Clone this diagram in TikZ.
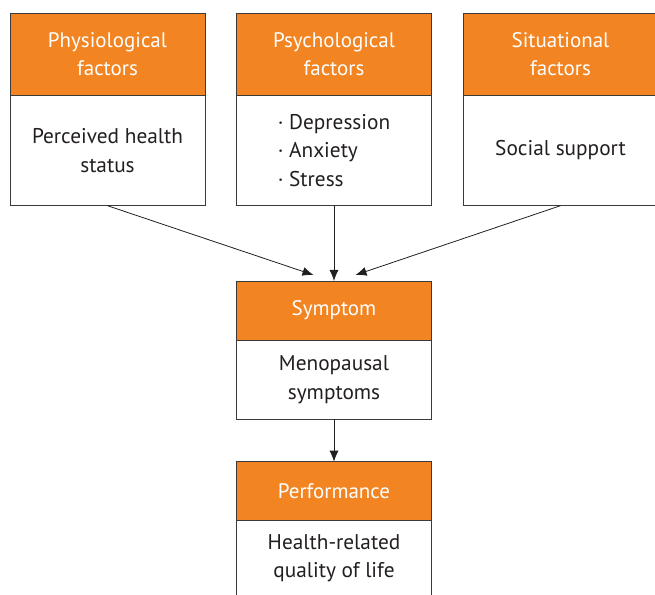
\documentclass[tikz,border=0pt]{standalone}
\usepackage{fontspec}
\setmainfont{PT Sans}
\usetikzlibrary{positioning,arrows.meta}
\definecolor{boxorange}{HTML}{F28422}
\definecolor{boxline}{HTML}{3A3A3A}
\definecolor{textdark}{HTML}{231F20}
\tikzset{
  hdr/.style={draw=boxline, line width=0.8pt, fill=boxorange, text=white,
    minimum width=195pt, align=center, inner sep=0pt, outer sep=0pt,
    font=\fontsize{21}{28.5}\selectfont},
  bodybox/.style={draw=boxline, line width=0.8pt, fill=white, text=textdark,
    minimum width=195pt, inner sep=0pt, outer sep=0pt,
    font=\fontsize{21.3}{28.5}\selectfont},
  link/.style={-{Latex[length=11pt,width=9pt]}, draw=textdark, line width=0.8pt}
}
\begin{document}
\begin{tikzpicture}[x=1pt,y=1pt]
  \useasboundingbox (0,0) rectangle (655,594);
  \clip (0,0) rectangle (655,594);

  % top row
  \node[hdr, minimum height=81.5pt, anchor=north west] (physhead) at (10,580.5) {Physiological\\factors};
  \node[hdr, minimum height=81.5pt, right=31.5pt of physhead] (psychhead) {Psychological\\factors};
  \node[hdr, minimum height=81.5pt, right=31.5pt of psychhead] (sithead) {Situational\\factors};
  \node[bodybox, minimum height=110.7pt, align=center, below=0pt of physhead] (physbody) {Perceived health\\status};
  \node[bodybox, minimum height=110.7pt, align=left, below=0pt of psychhead] (psychbody) {· Depression\\· Anxiety\\· Stress};
  \node[bodybox, minimum height=110.7pt, align=center, below=0pt of sithead] (sitbody) {Social support};

  % symptom
  \node[hdr, minimum height=59pt, below=75.3pt of psychbody] (symphead) {Symptom};
  \node[bodybox, minimum height=79.3pt, align=center, below=0pt of symphead] (sympbody) {Menopausal\\symptoms};

  % performance
  \node[hdr, minimum height=58.3pt, below=42.4pt of sympbody] (perfhead) {Performance};
  \node[bodybox, minimum height=110pt, align=center, below=0pt of perfhead] (perfbody) {};
  \node[text=textdark, font=\fontsize{21.3}{28.5}\selectfont, align=center, inner sep=0pt]
    (perftext) at ([yshift=-38pt]perfhead.south) {Health-related\\quality of life};

  \coordinate (inL) at ([xshift=-20.5pt,yshift=6pt]symphead.north);
  \coordinate (inR) at ([xshift=21.5pt,yshift=6pt]symphead.north);

  \draw[link] (physbody.south) -- (inL);
  \draw[link] (psychbody.south) -- (symphead.north);
  \draw[link] (sitbody.south) -- (inR);
  \draw[link] (sympbody.south) -- (perfhead.north);
\end{tikzpicture}
\end{document}
